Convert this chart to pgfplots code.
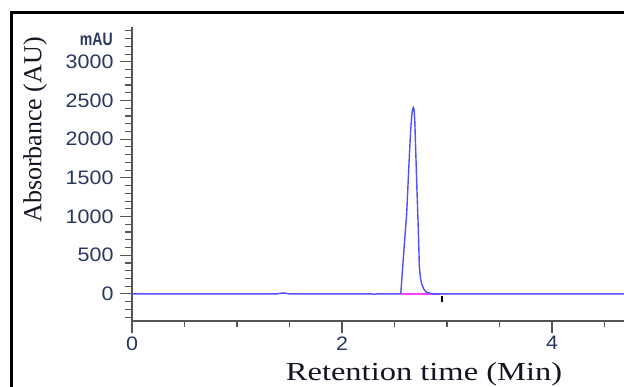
\documentclass[border=0pt]{standalone}
\usepackage{fontspec}
\usepackage{pgfplots}
\pgfplotsset{compat=1.18}
\setmainfont{Liberation Serif}
\newfontfamily\ticksans{Liberation Sans}[FakeStretch=1.1]
\newfontfamily\labserif{Liberation Serif}[FakeStretch=1.25]
\newfontfamily\mausans{Liberation Sans Bold}[FakeStretch=0.78]
\definecolor{tickc}{RGB}{40,55,95}
\definecolor{labc}{RGB}{20,20,35}
\definecolor{tracec}{RGB}{80,80,255}
\definecolor{basec}{RGB}{255,60,255}
\definecolor{axc}{RGB}{85,85,85}
\begin{document}
\begin{tikzpicture}[x=1pt,y=1pt]
\path[use as bounding box] (0,0) rectangle (624,387);
\draw[line width=3pt,black] (11,-10) -- (11,374) -- (640,374);
\begin{axis}[
  at={(132pt,66pt)}, anchor=south west,
  scale only axis, width=492pt, height=294pt,
  xmin=0, xmax=4.686, ymin=-350, ymax=3450,
  axis lines=left,
  axis line style={-, axc, line width=1.2pt},
  tick align=outside,
  xtick={0,2,4}, minor xtick={0.5,1,1.5,2.5,3,3.5,4.5},
  ytick={0,500,1000,1500,2000,2500,3000},
  minor ytick={-300,-200,-100,100,200,300,400,600,700,800,900,1100,1200,1300,1400,1600,1700,1800,1900,2100,2200,2300,2400,2600,2700,2800,2900,3100,3200,3300,3400},
  major tick length=12pt, minor tick length=6.5pt,
  every tick/.style={axc, line width=1.1pt},
  tick label style={font=\ticksans\fontsize{19.5}{19.5}\selectfont, text=tickc},
  yticklabel style={xshift=-3pt},
  /pgf/number format/assume math mode=true,
  /pgf/number format/1000 sep={},
  xlabel={Retention time (Min)},
  ylabel={Absorbance (AU)},
  xlabel style={at={(axis description cs:0.5935,-0.2007)}, anchor=base, font=\labserif\fontsize{26}{26}\selectfont, text=labc},
  ylabel style={at={(axis description cs:-0.197,0.65)}, anchor=center, rotate=0, font=\fontsize{26}{26}\selectfont, text=labc},
  clip=false,
]
\addplot[basec, line width=1.2pt] coordinates {(2.56,0) (2.93,0)};
\addplot[tracec, line width=1.4pt] coordinates {
(0,0) (1.38,0) (1.42,10) (1.46,10) (1.50,0) (2.28,0) (2.30,-5) (2.33,0)
(2.55,0) (2.56,5) (2.578,345) (2.60,750) (2.616,1036) (2.638,1683) (2.654,2115)
(2.664,2300) (2.672,2390) (2.679,2410) (2.686,2385) (2.693,2250) (2.700,1950) (2.711,1467) (2.727,820)
(2.737,345) (2.748,200) (2.759,130) (2.78,60) (2.806,21) (2.85,5) (2.9,0) (4.686,0)};
\addplot[black, line width=1.6pt] coordinates {(2.95,-25) (2.95,-110)};
\node[anchor=east, font=\mausans\fontsize{18}{18}\selectfont, text=tickc] at (axis description cs:-0.032,0.957) {mAU};
\end{axis}
\end{tikzpicture}
\end{document}
